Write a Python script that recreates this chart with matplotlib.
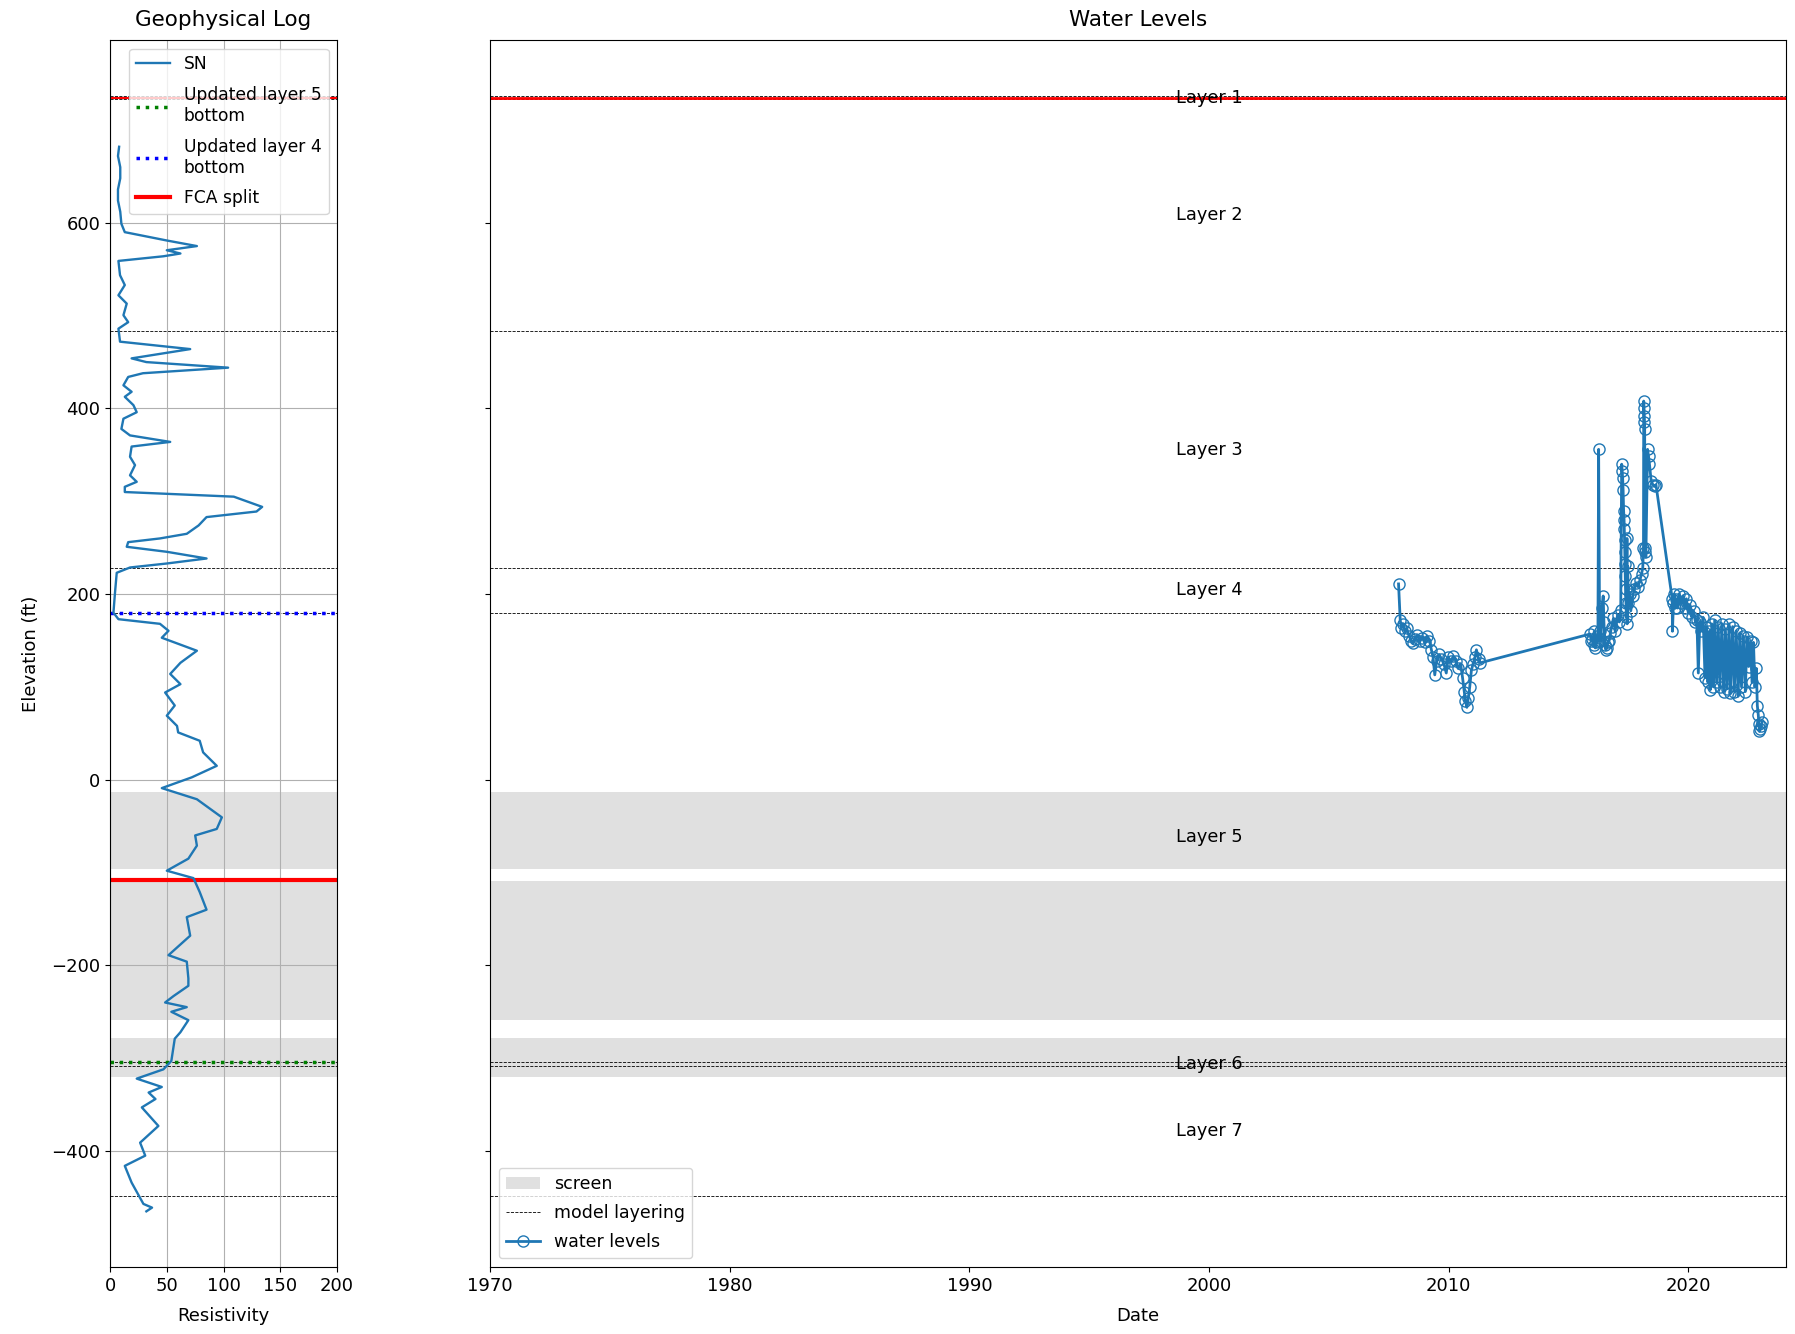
import matplotlib
matplotlib.use("Agg")
import matplotlib.pyplot as plt
import matplotlib.dates as mdates
import pandas as pd

plt.rcParams["font.size"] = 13

# --- geophysical log (SN resistivity vs elevation, ft) ---
sn_elev = [682, 672, 660, 648, 636, 624, 612, 599, 590, 581, 575, 570.5, 567, 564, 559,
           543.6, 533, 522, 513, 500.5, 493, 486, 472, 464, 454, 450, 444, 438, 434,
           425, 418, 412.6, 403.6, 396, 389, 378, 371, 364, 359, 348, 339, 328, 321,
           315.6, 310, 305, 294, 289, 283, 274, 265, 260, 256, 251, 245.6, 238.4, 233,
           228.7, 223, 202, 180, 173, 168, 160.5, 153, 139, 126, 114, 103, 94, 80, 69,
           58, 51, 42, 29.5, 15, 2.6, -9, -21, -40.5, -53, -60, -71, -85, -98, -106,
           -121, -140, -148, -168, -189, -196, -214, -222, -233, -240, -245, -250, -259,
           -272, -279, -303, -312, -322, -331, -337, -344, -353, -373, -391, -405, -416,
           -434, -457, -461, -465]
sn_res = [8, 7, 9, 9, 7, 7, 9, 10, 13, 50, 76.5, 50, 62, 47, 7.4,
          8.8, 13, 7.4, 14.7, 11.8, 16, 7.4, 8.8, 70.6, 19, 32, 104, 29, 16,
          11.8, 19, 13, 20.6, 23.5, 11.8, 10, 17.6, 53, 19, 17.6, 22, 17.6, 23.5,
          13, 13, 109, 134, 129, 85, 78, 67.6, 44, 16, 14.7, 50, 85, 50,
          17.6, 5.9, 4.4, 3, 7.4, 44, 51.5, 45.6, 76.5, 62, 53, 62, 48.5, 57, 50,
          59, 60, 79, 82, 94, 72, 45.6, 76.5, 98.5, 94, 75, 76.5, 69, 50, 73.5,
          79, 85, 67.6, 70.6, 51.5, 67.6, 69, 69, 56, 48.5, 67.6, 54, 69,
          62, 57, 54, 47, 23.5, 45.6, 34, 40, 28, 42.6, 26.5, 31, 13,
          19, 29.4, 37, 32]

# --- model layering and well info ---
layer_bottoms = [737, 733, 483, 228, 180, -304, -308, -448]  # layer 1 top, then bottoms
layer_names = ["Layer 1", "Layer 2", "Layer 3", "Layer 4", "Layer 5", "Layer 6", "Layer 7"]
screen_tops = [-13, -109, -278]
screen_bots = [-96, -259, -320]
upd_layer5_bot = -304
upd_layer4_bot = 180
fca_split = -107.5
top_red = 734

# --- water levels (decimal year, elevation ft) ---
wl_year = [2007.91, 2007.98, 2008.03, 2008.10, 2008.18, 2008.25, 2008.35, 2008.45, 2008.52,
           2008.60, 2008.70, 2008.80, 2008.90, 2009.00, 2009.10, 2009.20, 2009.28, 2009.35,
           2009.42, 2009.50, 2009.60, 2009.70, 2009.80, 2009.90, 2009.98, 2010.10, 2010.20,
           2010.30, 2010.40, 2010.50, 2010.58, 2010.65, 2010.70, 2010.76, 2010.82, 2010.88,
           2010.95, 2011.02, 2011.10, 2011.16, 2011.25, 2011.32,
           2015.90, 2015.95, 2016.00, 2016.05, 2016.08, 2016.12, 2016.15, 2016.20, 2016.23,
           2016.26, 2016.30, 2016.35, 2016.40, 2016.45, 2016.48, 2016.52, 2016.56, 2016.60,
           2016.65, 2016.70, 2016.75, 2016.80, 2016.88, 2016.95, 2017.05, 2017.12, 2017.18,
           2017.22, 2017.24, 2017.26, 2017.28, 2017.30, 2017.32, 2017.33, 2017.34, 2017.35,
           2017.36, 2017.37, 2017.38, 2017.40, 2017.42, 2017.44, 2017.45, 2017.47, 2017.50,
           2017.55, 2017.60, 2017.68, 2017.75, 2017.82, 2017.90, 2017.98, 2018.05, 2018.10,
           2018.13, 2018.14, 2018.15, 2018.16, 2018.17, 2018.18, 2018.19, 2018.21, 2018.23,
           2018.30, 2018.34, 2018.38, 2018.45, 2018.52, 2018.60, 2018.65,
           2019.33, 2019.34, 2019.38, 2019.42, 2019.46, 2019.50, 2019.55, 2019.62, 2019.70,
           2019.78, 2019.85, 2019.92, 2020.00, 2020.08, 2020.15, 2020.22, 2020.30, 2020.36,
           2020.42, 2020.48, 2020.55, 2020.62, 2020.70, 2020.76, 2020.82, 2020.88, 2020.92,
           2020.98, 2021.05, 2021.10, 2021.18, 2021.25, 2021.32, 2021.40, 2021.48, 2021.55,
           2021.62, 2021.70, 2021.76, 2021.85, 2021.92, 2022.00, 2022.08, 2022.15, 2022.22,
           2022.30, 2022.38, 2022.45, 2022.52, 2022.60, 2022.66, 2022.72, 2022.78, 2022.84,
           2022.88, 2022.92, 2022.95, 2022.97, 2023.00, 2023.05, 2023.08]
wl_elev = [211, 172, 164, 168, 160, 163, 155, 150, 147,
           152, 156, 150, 153, 148, 155, 150, 140, 132,
           113, 128, 135, 130, 125, 115, 132, 128, 133,
           128, 120, 125, 110, 95, 85, 78, 88, 100,
           118, 125, 132, 140, 130, 126,
           157, 150, 152, 145, 160, 142, 148, 155, 150,
           356, 160, 150, 185, 198, 170, 145, 140, 142,
           148, 150, 158, 165, 174, 160, 178, 170, 183,
           340, 333, 325, 312, 290, 280, 270, 258, 245,
           232, 220, 205, 190, 175, 260, 168, 230, 190,
           200, 182, 198, 205, 212, 208, 215, 222, 228,
           250, 408, 400, 392, 385, 378, 250, 245, 240,
           356, 349, 340, 322, 318, 316, 318,
           195, 160, 190, 200, 185, 195, 185, 200, 190,
           198, 185, 195, 180, 188, 175, 182, 170, 172,
           115, 170, 160, 175, 110, 165, 105, 160, 97,
           168, 100, 172, 105, 165, 100, 168, 95, 162,
           98, 168, 93, 165, 95, 160, 90, 158, 100,
           155, 95, 154, 122, 150, 105, 148, 100, 120,
           80, 70, 60, 52, 55, 58, 62]


def to_date(y):
    year = int(y)
    return pd.Timestamp(year=year, month=1, day=1) + pd.Timedelta(days=(y - year) * 365.25)


wl_dates = [to_date(y) for y in wl_year]

fig = plt.figure(figsize=(17.95, 13.34), dpi=100)
ax1 = fig.add_axes([0.0613, 0.0502, 0.1265, 0.9198])
ax2 = fig.add_axes([0.273, 0.0502, 0.722, 0.9198], sharey=ax1)

screen_color = "0.88"
for i, (t, b) in enumerate(zip(screen_tops, screen_bots)):
    ax1.axhspan(b, t, color=screen_color, lw=0, zorder=0)
    ax2.axhspan(b, t, color=screen_color, lw=0, zorder=0,
                label="screen" if i == 0 else None)

for i, z in enumerate(layer_bottoms):
    ax1.axhline(z, color="k", ls="--", lw=0.6, zorder=1)
    ax2.axhline(z, color="k", ls="--", lw=0.6, zorder=1,
                label="model layering" if i == 0 else None)

ax1.axhline(top_red, color="red", lw=1.5, zorder=1)
ax2.axhline(top_red, color="red", lw=2, zorder=1)

# left panel: geophysical log
ax1.plot(sn_res, sn_elev, color="C0", lw=1.7, label="SN", zorder=3)
ax1.axhline(upd_layer5_bot, color="green", ls=":", lw=2.5, label="Updated layer 5\nbottom", zorder=2)
ax1.axhline(upd_layer4_bot, color="blue", ls=":", lw=2.5, label="Updated layer 4\nbottom", zorder=2)
ax1.axhline(fca_split, color="red", lw=3, label="FCA split", zorder=2)
ax1.set_xlim(0, 200)
ax1.set_xticks([0, 50, 100, 150, 200])
ax1.set_ylim(-525, 797)
ax1.grid(True)
ax1.set_xlabel("Resistivity", labelpad=9)
ax1.set_ylabel("Elevation (ft)", labelpad=8)
ax1.set_title("Geophysical Log", fontsize=15.5, pad=10)
ax1.legend(loc="upper right", fontsize=12.3, labelspacing=0.75)

# right panel: water levels
ax2.plot(wl_dates, wl_elev, "-o", color="C0", mfc="none", ms=8, lw=2, label="water levels", zorder=4)
for i, name in enumerate(layer_names):
    mid = (layer_bottoms[i] + layer_bottoms[i + 1]) / 2
    ax2.text(pd.Timestamp("2000-01-01"), mid, name, ha="center", va="center", fontsize=12.8, zorder=5)
ax2.set_xlim(pd.Timestamp("1970-01-01"), pd.Timestamp("2024-01-30"))
ax2.xaxis.set_major_locator(mdates.YearLocator(10))
ax2.xaxis.set_major_formatter(mdates.DateFormatter("%Y"))
plt.setp(ax2.get_yticklabels(), visible=False)
ax2.set_xlabel("Date", labelpad=9)
ax2.set_title("Water Levels", fontsize=15.5, pad=10)
ax2.legend(loc="lower left", fontsize=12.5, labelspacing=0.65)

fig.savefig("out.png", dpi=100)
